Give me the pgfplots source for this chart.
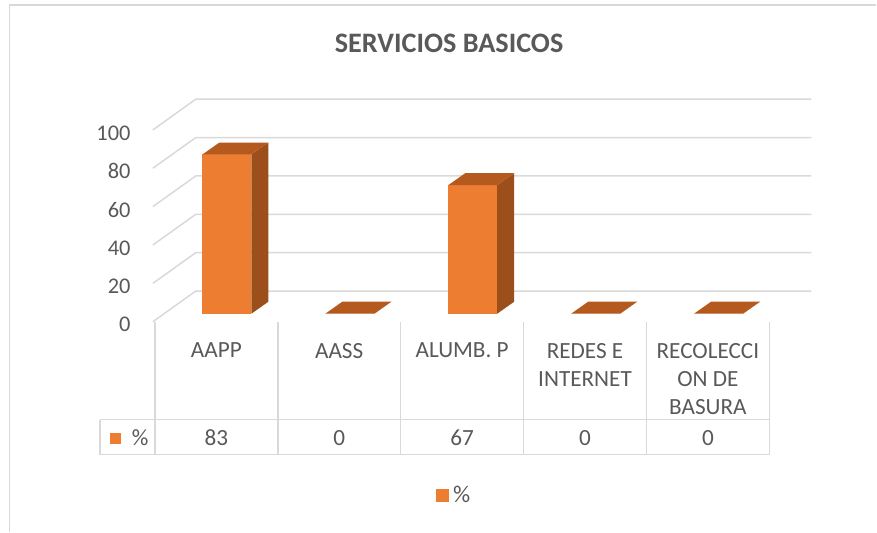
\documentclass[border=0pt]{standalone}
\usepackage{fontspec}
\setmainfont{Carlito}
\usepackage{pgfplots}
\pgfplotsset{compat=1.18}
\usepackage{pgfplotstable}
\definecolor{barfront}{HTML}{ED7D31}
\definecolor{bartop}{HTML}{B45A1F}
\definecolor{barside}{HTML}{9C4E1B}
\definecolor{gridc}{HTML}{D9D9D9}
\definecolor{txt}{HTML}{595959}

\pgfplotstableread{
x v
0.5 83
1.5 0
2.5 67
3.5 0
4.5 0
}\datatable

% 3D column drawn at the data point (x, v): front, top and side faces
\pgfdeclareplotmark{box3d}{%
  \pgfmathsetmacro\hh{\val*0.96}%
  \pgfsetfillcolor{barfront}%
  \pgfpathrectanglecorners{\pgfpoint{-6.95pt}{4pt-\hh pt}}{\pgfpoint{17.55pt}{4pt}}%
  \pgfusepath{fill}%
  \pgfsetfillcolor{barside}%
  \pgfpathmoveto{\pgfpoint{17.55pt}{4pt-\hh pt}}%
  \pgfpathlineto{\pgfpoint{17.55pt}{4pt}}%
  \pgfpathlineto{\pgfpoint{26.05pt}{10pt}}%
  \pgfpathlineto{\pgfpoint{26.05pt}{10pt-\hh pt}}%
  \pgfpathclose
  \pgfusepath{fill}%
  \pgfsetfillcolor{bartop}%
  \pgfpathmoveto{\pgfpoint{-6.95pt}{4pt}}%
  \pgfpathlineto{\pgfpoint{17.55pt}{4pt}}%
  \pgfpathlineto{\pgfpoint{26.05pt}{10pt}}%
  \pgfpathlineto{\pgfpoint{1.55pt}{10pt}}%
  \pgfpathclose
  \pgfusepath{fill}%
}

\begin{document}
\begin{tikzpicture}
\begin{axis}[
  scale only axis,
  width=438.5pt, height=266pt,
  xmin=-1.26016, xmax=5.86992,
  ymin=-109.375, ymax=167.7083,
  clip=false,
  axis line style={draw=none},
  tick style={draw=none},
  xtick=\empty,
  ytick={0,20,40,60,80,100},
  /pgf/number format/assume math mode=true,
  yticklabel style={anchor=east, inner sep=0pt, xshift=65.5pt, yshift=-1.5pt,
    text=txt, font=\fontsize{11.2}{13}\selectfont},
  legend style={at={(axis description cs:0.5195,0.0677)}, anchor=center,
    draw=none, fill=none, text=txt, font=\fontsize{12}{14}\selectfont,
    legend cell align=left},
  legend image code/.code={\fill[barfront] (0pt,-3pt) rectangle (6pt,3pt);},
]
% chart area border (top and left)
\draw[gridc, line width=0.75pt] (axis cs:-1.1829,-109.375) -- (axis cs:-1.1829,165.1) -- (axis cs:5.86992,165.1);
% title
\node[font=\fontsize{14.1}{17}\selectfont\bfseries, text=txt] at (axis cs:2.394,145.3) {SERVICIOS BASICOS};
% gridlines: left wall and back wall
\draw[gridc, line width=0.75pt] (axis cs:-0.016,0)   -- (axis cs:0.333,16)  -- (axis cs:5.341,16);
\draw[gridc, line width=0.75pt] (axis cs:-0.016,20)  -- (axis cs:0.333,36)  -- (axis cs:5.341,36);
\draw[gridc, line width=0.75pt] (axis cs:-0.016,40)  -- (axis cs:0.333,56)  -- (axis cs:5.341,56);
\draw[gridc, line width=0.75pt] (axis cs:-0.016,60)  -- (axis cs:0.333,76)  -- (axis cs:5.341,76);
\draw[gridc, line width=0.75pt] (axis cs:-0.016,80)  -- (axis cs:0.333,96)  -- (axis cs:5.341,96);
\draw[gridc, line width=0.75pt] (axis cs:-0.016,100) -- (axis cs:0.333,116) -- (axis cs:5.341,116);
% data table lines
\draw[gridc, line width=0.75pt] (axis cs:-0.447,-51.04) -- (axis cs:5,-51.04);
\draw[gridc, line width=0.75pt] (axis cs:-0.447,-69.27) -- (axis cs:5,-69.27);
\draw[gridc, line width=0.75pt] (axis cs:-0.447,-51.04) -- (axis cs:-0.447,-69.27);
\draw[gridc, line width=0.75pt] (axis cs:0,0) -- (axis cs:0,-69.27);
\draw[gridc, line width=0.75pt] (axis cs:1,0) -- (axis cs:1,-69.27);
\draw[gridc, line width=0.75pt] (axis cs:2,0) -- (axis cs:2,-69.27);
\draw[gridc, line width=0.75pt] (axis cs:3,0) -- (axis cs:3,-69.27);
\draw[gridc, line width=0.75pt] (axis cs:4,0) -- (axis cs:4,-69.27);
\draw[gridc, line width=0.75pt] (axis cs:5,0) -- (axis cs:5,-69.27);
% category names
\begin{scope}[every node/.style={anchor=north, inner sep=0pt, align=center, text=txt,
    font=\fontsize{11.6}{14}\selectfont}]
\node at (axis cs:0.5,-10.94) {AAPP};
\node at (axis cs:1.5,-10.94) {AASS};
\node at (axis cs:2.5,-10.94) {ALUMB. P};
\node at (axis cs:3.5,-10.94) {REDES E\\INTERNET};
\node at (axis cs:4.5,-10.94) {RECOLECCI\\ON DE\\BASURA};
\end{scope}
% table values row
\begin{scope}[every node/.style={anchor=center, inner sep=0pt, text=txt,
    font=\fontsize{11.6}{14}\selectfont}]
\node at (axis cs:0.5,-60.4) {83};
\node at (axis cs:1.5,-60.4) {0};
\node at (axis cs:2.5,-60.4) {67};
\node at (axis cs:3.5,-60.4) {0};
\node at (axis cs:4.5,-60.4) {0};
\node at (axis cs:-0.12,-60.4) {\%};
\end{scope}
\fill[barfront] (axis cs:-0.366,-57.8) rectangle (axis cs:-0.276,-63.5);
% columns
\addplot[only marks, mark=box3d,
  visualization depends on={rawy \as \val}]
  table[x=x, y=v] {\datatable};
\addlegendentry{\%}
\end{axis}
\end{tikzpicture}
\end{document}
